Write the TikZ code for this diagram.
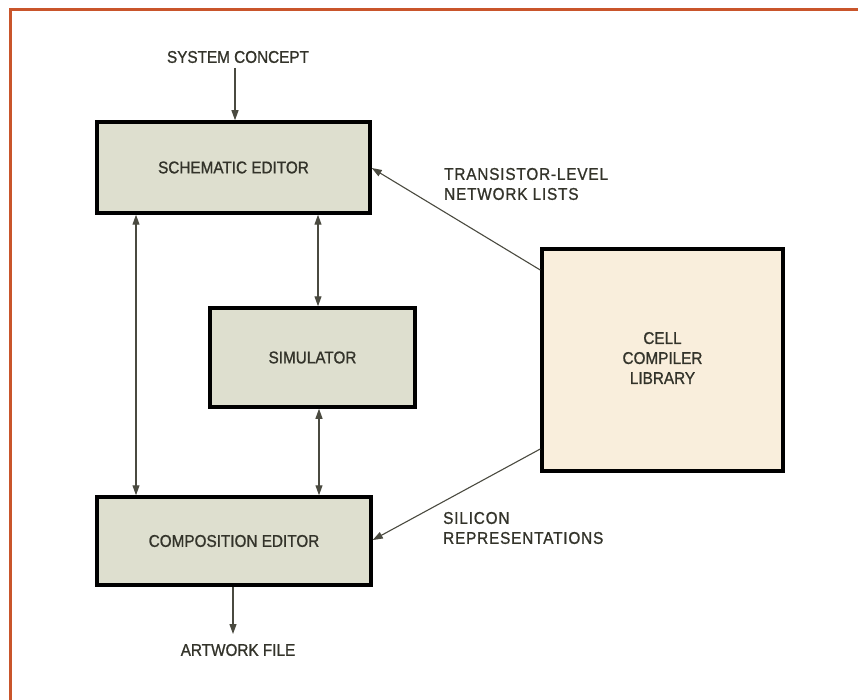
\documentclass[tikz,border=0pt]{standalone}
\usepackage{fontspec}
\setmainfont{Liberation Sans}[FakeStretch=0.9,FakeBold=1]
\newfontfamily\spacedlabel{Liberation Sans}[FakeStretch=0.9,FakeBold=1,LetterSpace=5]
\usetikzlibrary{arrows.meta}
\definecolor{framecol}{HTML}{C9552B}
\definecolor{editorfill}{HTML}{DEDFCF}
\definecolor{cellfill}{HTML}{F9EEDC}
\definecolor{inkcol}{HTML}{33332A}
\definecolor{linecol}{HTML}{4A4A40}
\begin{document}
\begin{tikzpicture}[x=1pt,y=-1pt,
  font=\fontsize{17}{20}\selectfont,
  blockbox/.style={draw=black,line width=3.5pt,fill=editorfill,text=inkcol,inner sep=0pt},
  cellbox/.style={draw=black,line width=3.5pt,fill=cellfill,text=inkcol,inner sep=0pt,align=center},
  caption/.style={text=inkcol,inner sep=0pt},
  flow/.style={draw=linecol,line width=1.1pt,-{Triangle[length=10pt,width=7pt]}},
  twoway/.style={draw=linecol,line width=1.1pt,{Triangle[length=10pt,width=7pt]}-{Triangle[length=10pt,width=7pt]}}]
\useasboundingbox (0,0) rectangle (858,700);
\fill[white] (0,0) rectangle (858,700);
% page frame: top and left edges
\draw[framecol,line width=3pt] (858,10) -- (10,10) -- (10,700);

% blocks
\node[blockbox,minimum width=273pt,minimum height=91pt] (sched) at (233.5,167.5) {SCHEMATIC EDITOR};
\node[blockbox,minimum width=205pt,minimum height=99pt] (sim) at (312.5,357.5) {SIMULATOR};
\node[blockbox,minimum width=274pt,minimum height=88pt] (comp) at (234,541) {COMPOSITION EDITOR};
\node[cellbox,minimum width=241pt,minimum height=222pt,text depth=4pt] (cell) at (662.5,360) {CELL\\COMPILER\\LIBRARY};

% external inputs and outputs
\node[caption] (concept) at (238,57) {SYSTEM CONCEPT};
\node[caption] (artwork) at (238,650) {ARTWORK FILE};
\node[caption,anchor=west,align=left,font=\spacedlabel\fontsize{17}{20}\selectfont] (netlbl) at (444,184) {TRANSISTOR-LEVEL\\NETWORK LISTS};
\node[caption,anchor=west,align=left,font=\spacedlabel\fontsize{17}{20}\selectfont] (silbl) at (443,528) {SILICON\\REPRESENTATIONS};

% connectors
\coordinate (c1) at (235,68);
\draw[flow] (c1) -- (sched.north -| c1);
\draw[flow] (comp.south -| 233,0) -- (233,634);
\draw[twoway] (sched.south -| 136,0) -- (comp.north -| 136,0);
\draw[twoway] (sched.south -| 318,0) -- (sim.north -| 318,0);
\draw[twoway] (sim.south -| 319,0) -- (comp.north -| 319,0);
\draw[flow] (cell.west |- 0,270) -- (sched.east |- 0,168);
\draw[flow] (cell.west |- 0,449) -- (comp.east |- 0,540);
\end{tikzpicture}
\end{document}
